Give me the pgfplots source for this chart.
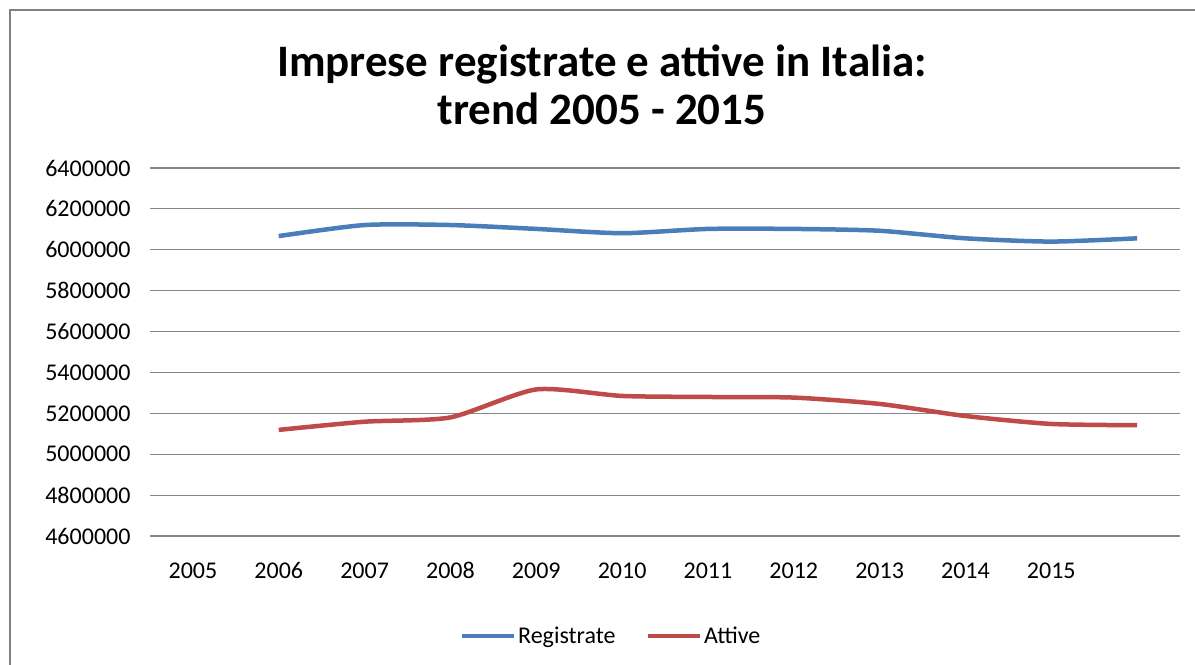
\documentclass[border=0pt]{standalone}
\usepackage{pgfplots}
\pgfplotsset{compat=1.18}
\usepackage{fontspec}
\setmainfont{Carlito}
\definecolor{regblue}{RGB}{74,126,187}
\definecolor{attred}{RGB}{190,75,72}
\definecolor{gridgray}{RGB}{134,134,134}
\definecolor{bordergray}{RGB}{128,128,128}
\begin{document}
\begin{tikzpicture}[x=1bp,y=1bp]
\useasboundingbox (0,0) rectangle (1195,665);
\draw[bordergray, line width=2bp] (9.5,0) -- (9.5,655) -- (1195,655);
\node[font=\fontsize{45bp}{48bp}\selectfont\bfseries, align=center] at (602,580) {Imprese registrate e attive in Italia:\\trend 2005 - 2015};
\begin{axis}[
  at={(150bp,129bp)}, anchor=south west, scale only axis,
  width=1030bp, height=368bp,
  xmin=-0.5, xmax=11.5, ymin=4600000, ymax=6400000,
  xtick={0,1,2,3,4,5,6,7,8,9,10},
  xticklabels={2005,2006,2007,2008,2009,2010,2011,2012,2013,2014,2015},
  ytick={4600000,4800000,5000000,5200000,5400000,5600000,5800000,6000000,6200000,6400000},
  scaled y ticks=false,
  ymajorgrids, grid style={gridgray, line width=1.1bp},
  axis line style={draw=none}, major tick length=0pt,
  tick label style={font=\fontsize{24bp}{28bp}\selectfont},
  /pgf/number format/.cd, fixed, 1000 sep={}, assume math mode=true, /pgfplots/.cd,
  yticklabel style={xshift=-16bp},
  xticklabel style={yshift=-23bp},
  legend columns=2,
  legend style={at={(0.4476,-0.2717)}, anchor=center, draw=none, fill=none,
    font=\fontsize{24bp}{28bp}\selectfont,
    /tikz/every even column/.append style={column sep=28bp},
    nodes={inner sep=2bp}},
  legend image code/.code={\draw[#1] (0bp,0bp) -- (52bp,0bp);},
]
\addplot[regblue, line width=4.5bp, smooth, tension=0.4] coordinates {
 (1,6067000) (2,6121000) (3,6121000) (4,6102000) (5,6081000) (6,6102000)
 (7,6102000) (8,6093000) (9,6056000) (10,6040000) (11,6056000)};
\addlegendentry{Registrate}
\addplot[attred, line width=4.5bp, smooth, tension=0.4] coordinates {
 (1,5119000) (2,5159000) (3,5180000) (4,5317000) (5,5285000) (6,5280000)
 (7,5277000) (8,5246000) (9,5187000) (10,5148000) (11,5142000)};
\addlegendentry{Attive}
\end{axis}
\end{tikzpicture}
\end{document}
